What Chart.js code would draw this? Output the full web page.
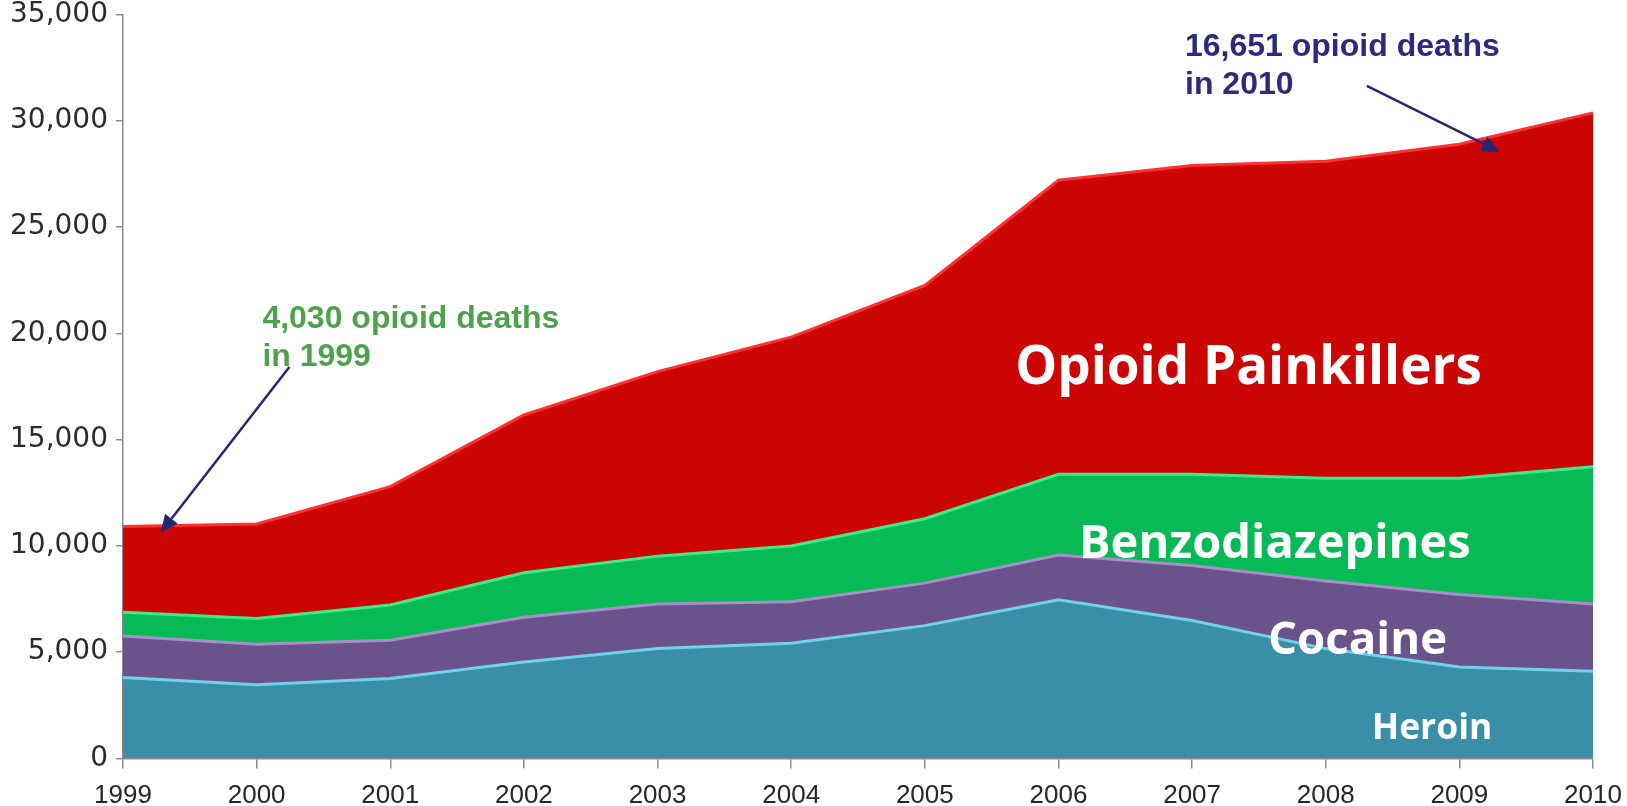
<!DOCTYPE html>
<html>
<head>
<meta charset="utf-8">
<script src="https://cdn.jsdelivr.net/npm/chart.js@4/dist/chart.umd.min.js"></script>
<style>
  html, body { margin: 0; padding: 0; background: #fff; }
  #wrap { width: 1627px; height: 806px; }
</style>
</head>
<body>
<div id="wrap"><canvas id="myChart"></canvas></div>
<script>
// years on the x axis
const years = ['1999', '2000', '2001', '2002', '2003', '2004', '2005', '2006', '2007', '2008', '2009', '2010'];

// deaths per layer, stacked bottom to top
const heroin  = [3810, 3470, 3760, 4540, 5170, 5420, 6250, 7470, 6490, 5170, 4300, 4100];
const cocaine = [1950, 1900, 1800, 2100, 2100, 1950, 2000, 2100, 2590, 3180, 3410, 3170];
const benzos  = [1120, 1220, 1660, 2100, 2250, 2630, 3030, 3800, 4290, 4830, 5470, 6450];
const opioids = [4030, 4440, 5570, 7420, 8680, 9820, 10980, 13830, 14530, 14920, 15720, 16651];

const yTicks = [0, 5000, 10000, 15000, 20000, 25000, 30000, 35000];

// labels inside the areas: [text, x (year index), y (deaths), width in year units]
const areaLabels = [
    ['Opioid Painkillers', 6.676, 17618, 3.49],
    ['Benzodiazepines', 7.154, 9432, 2.93],
    ['Cocaine', 8.568, 4916, 1.34],
    ['Heroin', 9.346, 917, 0.90]
];

// callouts: [lines, x, y of first baseline, colour]
const callouts = [
    [['4,030 opioid deaths', 'in 1999'], 1.043, 20252, '#4ea24b'],
    [['16,651 opioid deaths', 'in 2010'], 7.947, 33049, '#2b2a7c']
];
// arrows: [x0, y0, x1, y1] in data units
const arrows = [
    [1.245, 18418, 0.28, 10609],
    [9.308, 31637, 10.303, 28532]
];

const ctx = document.getElementById('myChart');

function layer(label, data, fill, edge, fillMode) {
    return {
        label: label,
        data: data,
        backgroundColor: fill,
        borderColor: edge,
        borderWidth: 3,
        pointRadius: 0,
        tension: 0,
        fill: fillMode
    };
}

const labelPlugin = {
    id: 'labels',
    afterDatasetsDraw(chart) {
        const c = chart.ctx;
        const x = chart.scales.x, y = chart.scales.y;
        const unit = x.getPixelForValue(1) - x.getPixelForValue(0);
        c.save();
        c.textBaseline = 'alphabetic';
        c.textAlign = 'left';

        // white labels, sized to their width
        areaLabels.forEach(l => {
            c.font = 'bold 100px "Open Sans"';
            const w = c.measureText(l[0]).width;
            const size = 100 * l[3] * unit / w;
            c.font = 'bold ' + size.toFixed(1) + 'px "Open Sans"';
            c.fillStyle = '#ffffff';
            c.fillText(l[0], x.getPixelForValue(l[1]), y.getPixelForValue(l[2]));
        });

        // arrows
        c.strokeStyle = '#262673';
        c.fillStyle = '#262673';
        c.lineWidth = 2.5;
        arrows.forEach(a => {
            const x0 = x.getPixelForValue(a[0]), y0 = y.getPixelForValue(a[1]);
            const x1 = x.getPixelForValue(a[2]), y1 = y.getPixelForValue(a[3]);
            const ang = Math.atan2(y1 - y0, x1 - x0);
            const hl = 18, hw = 8;
            const bx = x1 - hl * Math.cos(ang), by = y1 - hl * Math.sin(ang);
            c.beginPath();
            c.moveTo(x0, y0);
            c.lineTo(bx, by);
            c.stroke();
            c.beginPath();
            c.moveTo(x1, y1);
            c.lineTo(bx + hw * Math.sin(ang), by - hw * Math.cos(ang));
            c.lineTo(bx - hw * Math.sin(ang), by + hw * Math.cos(ang));
            c.closePath();
            c.fill();
        });

        // callout text
        c.font = 'bold 32px "Liberation Sans"';
        callouts.forEach(t => {
            c.fillStyle = t[3];
            const px = x.getPixelForValue(t[1]);
            const py = y.getPixelForValue(t[2]);
            t[0].forEach((line, i) => c.fillText(line, px, py + i * 38));
        });
        c.restore();
    }
};

new Chart(ctx, {
    type: 'line',
    data: {
        labels: years,
        datasets: [
            layer('Heroin', heroin, '#3a8ea8', '#72d2ee', 'origin'),
            layer('Cocaine', cocaine, '#6a528a', '#a88fcc', '-1'),
            layer('Benzodiazepines', benzos, '#08ba56', '#3dec86', '-1'),
            layer('Opioid Painkillers', opioids, '#cc0505', '#ff3030', '-1')
        ]
    },
    plugins: [labelPlugin],
    options: {
        responsive: true,
        maintainAspectRatio: false,
        animation: false,
        layout: { padding: 0 },
        plugins: {
            legend: { display: false },
            tooltip: { enabled: false }
        },
        scales: {
            x: {
                offset: false,
                afterFit: scale => {
                    scale.height = 47.5;
                    scale.paddingLeft = 0;
                    scale.paddingRight = 34;
                },
                grid: { display: true, drawOnChartArea: false, tickLength: 10, color: '#8c8c8c', lineWidth: 1.5 },
                border: { color: '#8c8c8c', width: 1.5 },
                ticks: {
                    color: '#262626',
                    padding: 14,
                    maxRotation: 0,
                    autoSkip: false,
                    font: { family: '"Liberation Sans"', size: 26, lineHeight: 1.0 }
                }
            },
            y: {
                stacked: true,
                min: 0,
                max: 35000,
                afterBuildTicks: scale => { scale.ticks = yTicks.map(v => ({ value: v })); },
                afterFit: scale => {
                    scale.width = 123;
                    scale.paddingTop = 14.5;
                    scale.paddingBottom = 0;
                },
                grid: { display: true, drawOnChartArea: false, tickLength: 7, color: '#8c8c8c', lineWidth: 1.5 },
                border: { color: '#8c8c8c', width: 1.5 },
                ticks: {
                    color: '#2b2b2b',
                    padding: 8,
                    font: { family: '"DejaVu Sans"', size: 28 },
                    callback: v => v.toLocaleString('en-US')
                }
            }
        }
    }
});
</script>
</body>
</html>
